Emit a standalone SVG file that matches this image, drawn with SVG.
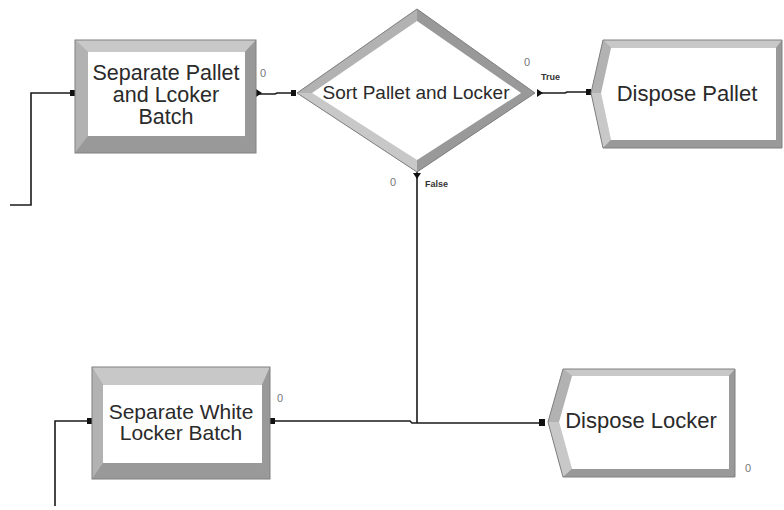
<svg xmlns="http://www.w3.org/2000/svg" width="784" height="510" viewBox="0 0 784 510">
<style>
.lbl{font-family:"Liberation Sans",Arial,sans-serif;fill:#2a2a2a;text-anchor:middle}
.cnt{font-family:"Liberation Sans Narrow","Liberation Sans",sans-serif;font-size:11px;fill:#777777;text-anchor:middle}
.cond{font-family:"Liberation Sans",Arial,sans-serif;font-size:9px;font-weight:bold;fill:#333}
.face{fill:#ffffff}
.lt{fill:#c8c8c8}
.md{fill:#b2b2b2}
.dk{fill:#999999}
.edge{fill:none;stroke:#808080;stroke-width:1}
.wire{fill:none;stroke:#1a1a1a;stroke-width:1.6}
.pt{fill:#111}
</style>
<rect width="784" height="510" fill="#ffffff"/>

<g id="connectors">
  <polyline class="wire" points="10,205 31,205 31,93 74,93"/>
  <polyline class="wire" points="258,94 275,94 277,93 294,93"/>
  <polyline class="wire" points="537,93 565,93 567,92 590,92"/>
  <polyline class="wire" points="417,172 417,423"/>
  <polyline class="wire" points="55,506 55,421 90,421"/>
  <polyline class="wire" points="272,421 410,421 412,423 543,423"/>
  <rect class="pt" x="70" y="90" width="5" height="6"/>
  <polygon class="pt" points="256,89 262,93 256,97"/>
  <rect class="pt" x="291" y="90" width="5" height="6"/>
  <polygon class="pt" points="537,89 543,93 537,97"/>
  <rect class="pt" x="586" y="89" width="5" height="6"/>
  <polygon class="pt" points="413,173 417,179 421,173"/>
  <rect class="pt" x="87" y="418" width="5" height="6"/>
  <rect class="pt" x="270" y="418" width="5" height="6"/>
  <rect class="pt" x="539" y="419" width="6" height="7"/>
  <text class="cond" x="541" y="80">True</text>
  <text class="cond" x="425" y="187">False</text>
</g>

<g id="separate-pallet">
  <rect x="75" y="40" width="181" height="113" fill="#a8a8a8"/>
  <polygon class="lt" points="75,40 256,40 245,52 88,52"/>
  <polygon class="md" points="75,40 88,52 88,136 75,153"/>
  <polygon class="dk" points="256,40 256,153 245,136 245,52"/>
  <polygon class="dk" points="75,153 256,153 245,136 88,136"/>
  <rect class="face" x="88" y="52" width="157" height="84"/>
  <rect class="edge" x="75" y="40" width="181" height="113"/>
  <text class="lbl" font-size="21.5" x="166" y="80">Separate Pallet</text>
  <text class="lbl" font-size="21.5" x="166" y="102">and Lcoker</text>
  <text class="lbl" font-size="21.5" x="166" y="124">Batch</text>
  <text class="cnt" x="263" y="77">0</text>
</g>

<g id="sort-pallet-locker">
  <polygon class="md" points="297,93 417,9 535,93 417,172"/>
  <polygon class="md" points="297,93 417,9 417,21 312,93"/>
  <polygon class="dk" points="417,9 535,93 521,93 417,21"/>
  <polygon class="lt" points="297,93 312,93 417,160 417,172"/>
  <polygon class="dk" points="535,93 417,172 417,160 521,93"/>
  <polygon class="face" points="312,93 417,21 521,93 417,160"/>
  <polygon class="edge" points="297,93 417,9 535,93 417,172"/>
  <text class="lbl" font-size="19" x="416" y="99">Sort Pallet and Locker</text>
  <text class="cnt" x="527" y="66">0</text>
  <text class="cnt" x="393" y="186">0</text>
</g>

<g id="dispose-pallet">
  <polygon fill="#a8a8a8" points="603,40 782,40 782,148 603,148 591,93"/>
  <polygon class="lt" points="603,40 782,40 776,48 611,48"/>
  <polygon class="md" points="603,40 611,48 601,93 591,93"/>
  <polygon class="lt" points="591,93 601,93 611,140 603,148"/>
  <polygon class="dk" points="782,40 782,148 776,140 776,48"/>
  <polygon class="dk" points="603,148 782,148 776,140 611,140"/>
  <polygon class="face" points="611,48 776,48 776,140 611,140 601,93"/>
  <polygon class="edge" points="603,40 782,40 782,148 603,148 591,93"/>
  <text class="lbl" font-size="22" x="687" y="101">Dispose Pallet</text>
</g>

<g id="separate-white-locker">
  <rect x="92" y="367" width="178" height="112" fill="#a8a8a8"/>
  <polygon class="lt" points="92,367 270,367 262,385 103,385"/>
  <polygon class="md" points="92,367 103,385 103,463 92,479"/>
  <polygon class="dk" points="270,367 270,479 262,463 262,385"/>
  <polygon class="dk" points="92,479 270,479 262,463 103,463"/>
  <rect class="face" x="103" y="385" width="159" height="78"/>
  <rect class="edge" x="92" y="367" width="178" height="112"/>
  <text class="lbl" font-size="21" x="181" y="419">Separate White</text>
  <text class="lbl" font-size="21" x="181" y="440">Locker Batch</text>
  <text class="cnt" x="280" y="402">0</text>
</g>

<g id="dispose-locker">
  <polygon fill="#a8a8a8" points="563,369 735,369 735,477 563,477 548,422"/>
  <polygon class="lt" points="563,369 735,369 729,376 572,376"/>
  <polygon class="md" points="563,369 572,376 559,422 548,422"/>
  <polygon class="lt" points="548,422 559,422 572,469 563,477"/>
  <polygon class="dk" points="735,369 735,477 729,469 729,376"/>
  <polygon class="dk" points="563,477 735,477 729,469 572,469"/>
  <polygon class="face" points="572,376 729,376 729,469 572,469 559,422"/>
  <polygon class="edge" points="563,369 735,369 735,477 563,477 548,422"/>
  <text class="lbl" font-size="22" x="641" y="428">Dispose Locker</text>
  <text class="cnt" x="748" y="472">0</text>
</g>
</svg>
